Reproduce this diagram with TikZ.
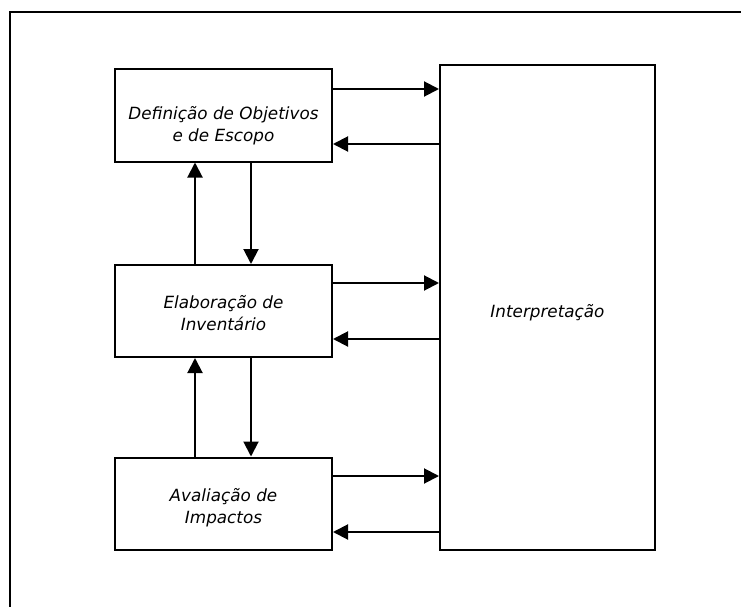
\documentclass[tikz,border=0pt]{standalone}
\usepackage{fontspec}
\setmainfont{DejaVu Sans}
\usepackage{tikz}
\usetikzlibrary{arrows.meta, positioning, calc}

% moves the text of a box down by half of #1
\newcommand{\dropby}[1]{\rule{0pt}{\dimexpr 13pt+#1\relax}}

\begin{document}
\begin{tikzpicture}[x=1pt,y=-1pt,line width=2pt,
                    main node/.style={rectangle,draw,fill=white,align=center,
                      minimum width=217pt,minimum height=92pt,
                      font=\fontsize{16.8}{22}\selectfont\itshape}]
 \useasboundingbox (0,0) rectangle (741,607);

 % frame
 \draw (10,607) -- (10,12) -- (741,12);

 \node[main node] (1) at (223.5,115.5) {\dropby{20pt}Defini\c{c}\~ao de Objetivos\\e de Escopo};

 \node[main node] (2) at (223.5,311) {\dropby{4pt}Elabora\c{c}\~ao de\\Invent\'ario};

 \node[main node] (3) at (223.5,503.5) {\dropby{8pt}Avalia\c{c}\~ao de\\Impactos};

 \node[main node,minimum width=215pt,minimum height=485pt] (4) at (547.5,307.5) {\dropby{10pt}Interpreta\c{c}\~ao};

 % arrows to and from the interpretation box
 \coordinate (o1) at ([yshift=26.5pt]1.east);
 \coordinate (i1) at ([yshift=-28.5pt]1.east);
 \coordinate (o2) at ([yshift=28pt]2.east);
 \coordinate (i2) at ([yshift=-28pt]2.east);
 \coordinate (o3) at ([yshift=27.5pt]3.east);
 \coordinate (i3) at ([yshift=-28.5pt]3.east);

 % arrows between the phases
 \coordinate (d1) at ([xshift=27.5pt]1.south);
 \coordinate (u2) at ([xshift=-28.5pt]2.north);
 \coordinate (d2) at ([xshift=27.5pt]2.south);
 \coordinate (u3) at ([xshift=-28.5pt]3.north);

  \path[-{Triangle[length=15pt,width=15pt]}]
    (o1) edge (o1 -| 4.west)
    (i1 -| 4.west) edge (i1)
    (o2) edge (o2 -| 4.west)
    (i2 -| 4.west) edge (i2)
    (o3) edge (o3 -| 4.west)
    (i3 -| 4.west) edge (i3)
    (d1) edge (d1 |- 2.north)
    (u2) edge (u2 |- 1.south)
    (d2) edge (d2 |- 3.north)
    (u3) edge (u3 |- 2.south);

\end{tikzpicture}
\end{document}
